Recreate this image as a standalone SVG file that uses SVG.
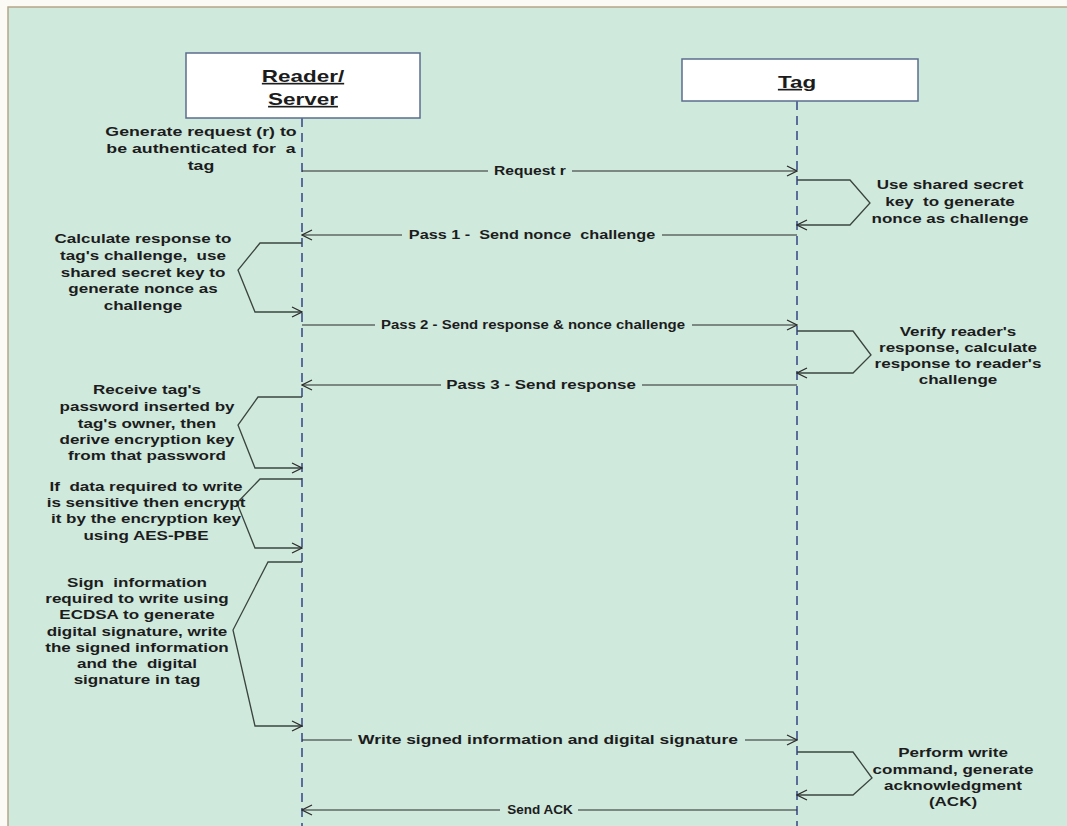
<svg xmlns="http://www.w3.org/2000/svg" width="1067" height="826" viewBox="0 0 1067 826">
  <style>
    .frame { fill: #cfe9dc; stroke: #b5a588; stroke-width: 1.5; }
    .box { fill: #ffffff; stroke: #5b6d8e; stroke-width: 1.5; }
    .life { stroke: #5b6d9a; stroke-width: 2; stroke-dasharray: 9 6; fill: none; }
    .msg { stroke: #2b2b2b; stroke-width: 1.2; fill: none; }
    .bracket { stroke: #3b4540; stroke-width: 1.3; fill: none; }
    text { font-family: "Liberation Sans", Arial, sans-serif; font-weight: bold; fill: #1c1c1c; text-anchor: middle; white-space: pre; }
    .title { font-size: 16.5px; text-decoration: underline; }
    .note { font-size: 12px; }
    .label { font-size: 13px; }
  </style>
  <defs>
    <marker id="open" viewBox="0 0 12 12" refX="11" refY="6" markerWidth="12" markerHeight="12" markerUnits="userSpaceOnUse" orient="auto">
      <path d="M1,1 L11,6 L1,11" fill="none" stroke="#2b2b2b" stroke-width="1.2"/>
    </marker>
  </defs>

  <!-- page background and panel -->
  <rect x="0" y="0" width="1067" height="826" fill="#fbfaf4"/>
  <rect class="frame" x="8" y="7" width="1070" height="830"/>

  <!-- participants -->
  <g id="reader">
    <rect class="box" x="186" y="53" width="234" height="65"/>
    <text class="title" transform="translate(303,0) scale(1.36,1)"><tspan x="0" y="82">Reader/</tspan><tspan x="0" y="105">Server</tspan></text>
  </g>
  <g id="tag">
    <rect class="box" x="682" y="59" width="236" height="42"/>
    <text class="title" transform="translate(797,0) scale(1.36,1)"><tspan x="0" y="88">Tag</tspan></text>
  </g>

  <!-- lifelines, messages and self-loops -->
  <g id="connectors">
    <line class="life" x1="302" y1="118" x2="302" y2="826"/>
    <line class="life" x1="797" y1="101" x2="797" y2="826"/>

    <!-- Request r -->
    <line class="msg" x1="302" y1="171" x2="488" y2="171"/>
    <line class="msg" x1="572" y1="171" x2="797" y2="171" marker-end="url(#open)"/>
    <!-- tag loop 1 -->
    <polyline class="bracket" points="797,180 850,180 870,203 850,225 797,225" marker-end="url(#open)"/>
    <!-- Pass 1 -->
    <line class="msg" x1="797" y1="235" x2="662" y2="235"/>
    <line class="msg" x1="402" y1="235" x2="302" y2="235" marker-end="url(#open)"/>
    <!-- reader loop 1 -->
    <polyline class="bracket" points="302,243 260,243 238,270 255,312 302,312" marker-end="url(#open)"/>
    <!-- Pass 2 -->
    <line class="msg" x1="302" y1="325" x2="375" y2="325"/>
    <line class="msg" x1="692" y1="325" x2="797" y2="325" marker-end="url(#open)"/>
    <!-- tag loop 2 -->
    <polyline class="bracket" points="797,331 853,331 871,355 853,373 797,373" marker-end="url(#open)"/>
    <!-- Pass 3 -->
    <line class="msg" x1="797" y1="385" x2="642" y2="385"/>
    <line class="msg" x1="441" y1="385" x2="302" y2="385" marker-end="url(#open)"/>
    <!-- reader loop 2 -->
    <polyline class="bracket" points="302,397 258,397 238,425 255,468 302,468" marker-end="url(#open)"/>
    <!-- reader loop 3 -->
    <polyline class="bracket" points="302,479 260,479 237,503 255,548 302,548" marker-end="url(#open)"/>
    <!-- reader loop 4 -->
    <polyline class="bracket" points="302,562 268,562 233,630 255,726 302,726" marker-end="url(#open)"/>
    <!-- Write -->
    <line class="msg" x1="302" y1="740" x2="352" y2="740"/>
    <line class="msg" x1="745" y1="740" x2="797" y2="740" marker-end="url(#open)"/>
    <!-- tag loop 3 -->
    <polyline class="bracket" points="797,752 853,752 872,778 853,795 797,795" marker-end="url(#open)"/>
    <!-- Send ACK -->
    <line class="msg" x1="797" y1="810" x2="578" y2="810"/>
    <line class="msg" x1="500" y1="810" x2="302" y2="810" marker-end="url(#open)"/>
  </g>

  <!-- message labels -->
  <g id="labels">
    <text class="label" transform="translate(530,0) scale(1.2,1)" y="175">Request r</text>
    <text class="label" transform="translate(532,0) scale(1.25,1)" y="239">Pass 1 -  Send nonce  challenge</text>
    <text class="label" transform="translate(533,0) scale(1.15,1)" y="329">Pass 2 - Send response &amp; nonce challenge</text>
    <text class="label" transform="translate(541,0) scale(1.3,1)" y="389">Pass 3 - Send response</text>
    <text class="label" transform="translate(548,0) scale(1.34,1)" y="744">Write signed information and digital signature</text>
    <text class="label" transform="translate(540,0) scale(1.04,1)" y="814">Send ACK</text>
  </g>

  <!-- activity notes -->
  <g id="note-generate">
    <text class="note" transform="translate(201,0) scale(1.48,1)"><tspan x="0" y="136">Generate request (r) to</tspan><tspan x="0" y="153">be authenticated for  a</tspan><tspan x="0" y="170">tag</tspan></text>
  </g>
  <g id="note-tag-nonce">
    <text class="note" transform="translate(950,0) scale(1.42,1)"><tspan x="0" y="189">Use shared secret</tspan><tspan x="0" y="206">key  to generate</tspan><tspan x="0" y="223">nonce as challenge</tspan></text>
  </g>
  <g id="note-reader-response">
    <text class="note" transform="translate(143,0) scale(1.42,1)"><tspan x="0" y="243">Calculate response to</tspan><tspan x="0" y="260">tag's challenge,  use</tspan><tspan x="0" y="277">shared secret key to</tspan><tspan x="0" y="293">generate nonce as</tspan><tspan x="0" y="310">challenge</tspan></text>
  </g>
  <g id="note-tag-verify">
    <text class="note" transform="translate(958,0) scale(1.42,1)"><tspan x="0" y="336">Verify reader's</tspan><tspan x="0" y="352">response, calculate</tspan><tspan x="0" y="368">response to reader's</tspan><tspan x="0" y="384">challenge</tspan></text>
  </g>
  <g id="note-reader-password">
    <text class="note" transform="translate(147,0) scale(1.42,1)"><tspan x="0" y="394">Receive tag's</tspan><tspan x="0" y="411">password inserted by</tspan><tspan x="0" y="428">tag's owner, then</tspan><tspan x="0" y="444">derive encryption key</tspan><tspan x="0" y="460">from that password</tspan></text>
  </g>
  <g id="note-reader-encrypt">
    <text class="note" transform="translate(146,0) scale(1.42,1)"><tspan x="0" y="491">If  data required to write</tspan><tspan x="0" y="507">is sensitive then encrypt</tspan><tspan x="0" y="523">it by the encryption key</tspan><tspan x="0" y="540">using AES-PBE</tspan></text>
  </g>
  <g id="note-reader-sign">
    <text class="note" transform="translate(137,0) scale(1.42,1)"><tspan x="0" y="587">Sign  information</tspan><tspan x="0" y="603">required to write using</tspan><tspan x="0" y="619">ECDSA to generate</tspan><tspan x="0" y="636">digital signature, write</tspan><tspan x="0" y="652">the signed information</tspan><tspan x="0" y="668">and the  digital</tspan><tspan x="0" y="684">signature in tag</tspan></text>
  </g>
  <g id="note-tag-ack">
    <text class="note" transform="translate(953,0) scale(1.42,1)"><tspan x="0" y="757">Perform write</tspan><tspan x="0" y="774">command, generate</tspan><tspan x="0" y="790">acknowledgment</tspan><tspan x="0" y="806">(ACK)</tspan></text>
  </g>
</svg>
